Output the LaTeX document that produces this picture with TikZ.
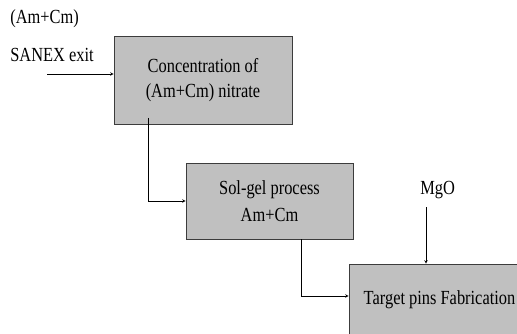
\documentclass[tikz,border=0pt]{standalone}
\usepackage{fontspec}
\setmainfont[FakeStretch=0.82]{Liberation Serif}
\usepackage{tikz}
\definecolor{boxgray}{RGB}{192,192,192}
\definecolor{edgegray}{RGB}{60,60,60}
\tikzset{
	step box/.style={
		shape = rectangle,
		draw = edgegray,
		fill = boxgray,
		align = center,
		inner sep = 0pt
	},
	lbl/.style={
		inner sep = 0pt
	},
}
\tikzset{>=stealth}

\begin{document}
\begin{tikzpicture}[x=1pt, y=-1pt, font=\fontsize{20}{25}\selectfont, line width=0.6pt]
    \useasboundingbox (0,0) rectangle (517,334);
    \clip (0,0) rectangle (517,334);
    % process steps
    \node[step box, minimum width=178pt, minimum height=88pt] (conc) at (203,80)
      {Concentration of\\(Am+Cm) nitrate};
    \node[step box, minimum width=167pt, minimum height=76pt] (solgel) at (269.5,201)
      {Sol-gel process\\[2pt]Am+Cm};
    \node[step box, minimum width=181pt, minimum height=72pt] (pins) at (439.5,300)
      {Target pins Fabrication};
    % inputs
    \node[lbl, anchor=west] (amcm) at (10,19) {(Am+Cm)};
    \node[lbl, anchor=west] (sanex) at (10,55) {SANEX exit};
    \node[lbl, anchor=west] (mgo) at (420,190) {MgO};
    \coordinate (feed) at (47,74);
    \coordinate (drop) at (148,118);
    \coordinate (mgoin) at (426,207);
    \draw[->] (feed) -- (feed -| conc.west);
    \draw[->] (drop) |- (solgel.west);
    \draw[->] ([xshift=31.5pt]solgel.south) |- ([yshift=4pt]pins.west);
    \draw[->] (mgoin) -- (mgoin |- pins.north);
\end{tikzpicture}
\end{document}
